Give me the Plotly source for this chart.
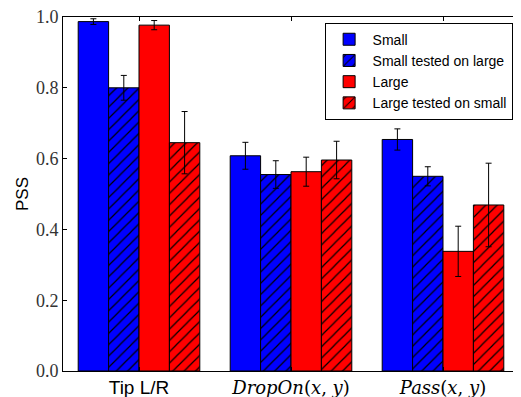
import plotly.graph_objects as go

categories = ["Tip L/R", "DropOn(x,y)", "Pass(x,y)"]
tick_labels = [
    "<span style=\"font-family:'Liberation Sans';font-size:19px\">Tip L/R</span>",
    "<i>DropOn</i>(<i>x</i>, <i>y</i>)",
    "<i>Pass</i>(<i>x</i>, <i>y</i>)",
]
series_names = ["Small", "Small tested on large", "Large", "Large tested on small"]
small = [0.987, 0.608, 0.654]
small_err = [0.008, 0.038, 0.030]
small_on_large = [0.800, 0.555, 0.550]
small_on_large_err = [0.035, 0.039, 0.027]
large = [0.977, 0.563, 0.338]
large_err = [0.013, 0.041, 0.071]
large_on_small = [0.645, 0.596, 0.469]
large_on_small_err = [0.088, 0.053, 0.118]
y_ticks = [0.0, 0.2, 0.4, 0.6, 0.8, 1.0]

values = [small, small_on_large, large, large_on_small]
errors = [small_err, small_on_large_err, large_err, large_on_small_err]
colors = ["#0000ff", "#0000ff", "#ff0000", "#ff0000"]
hatched = [False, True, False, True]

fig = go.Figure()
for name, v, e, c, h in zip(series_names, values, errors, colors, hatched):
    pattern = dict(shape="/", fgcolor="black", bgcolor=c, size=8, solidity=0.15, fillmode="replace") if h else dict(shape="")
    fig.add_trace(go.Bar(
        x=categories, y=v, name=name,
        marker=dict(color=c, line=dict(color="black", width=1), pattern=pattern),
        error_y=dict(type="data", array=e, visible=True, color="black", thickness=1, width=3),
    ))

fig.update_layout(
    width=513, height=389,
    margin=dict(l=55, r=2, t=9, b=26, autoexpand=False),
    barmode="group", bargap=0.2, bargroupgap=0,
    plot_bgcolor="white", paper_bgcolor="white",
    font=dict(family="Liberation Serif", size=17, color="black"),
    legend=dict(
        x=0.986, y=0.984, xanchor="right", yanchor="top",
        bordercolor="black", borderwidth=1, bgcolor="white",
        font=dict(family="Liberation Sans", size=14),
        tracegroupgap=0, itemwidth=37,
    ),
    showlegend=True,
)
fig.update_xaxes(
    type="category", range=[-0.5, 2.5],
    tickvals=categories, ticktext=tick_labels,
    showline=True, linecolor="black", linewidth=1, mirror="ticks",
    ticks="inside", ticklen=4, tickcolor="black",
    tickfont=dict(family="DejaVu Serif", size=18),
    showgrid=False, zeroline=False,
)
fig.update_yaxes(
    range=[0, 1.0], tickmode="array", tickvals=y_ticks, ticktext=[f"{t:.1f}" for t in y_ticks],
    ticklabeloverflow="allow",
    showline=True, linecolor="black", linewidth=1, mirror="ticks",
    ticks="inside", ticklen=4, tickcolor="black",
    tickfont=dict(family="Liberation Serif", size=18, color="#333333"),
    title=dict(text="PSS", font=dict(family="Liberation Sans", size=17), standoff=2),
    showgrid=False, zeroline=False,
)

fig.write_html("out.html")
